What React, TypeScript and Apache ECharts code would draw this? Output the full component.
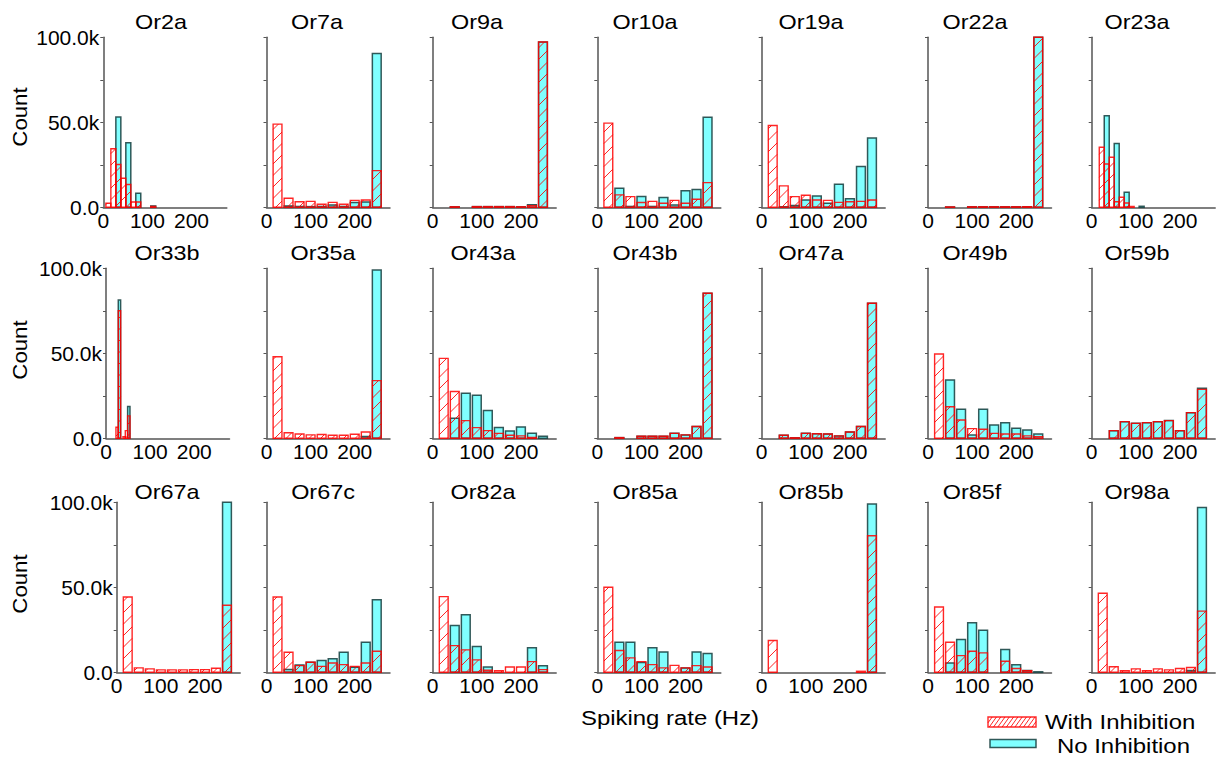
import React, { useEffect, useRef } from "react";
import * as echarts from "echarts";

// ---------- data ----------
const NAMES = [
  "Or2a", "Or7a", "Or9a", "Or10a", "Or19a", "Or22a", "Or23a",
  "Or33b", "Or35a", "Or43a", "Or43b", "Or47a", "Or49b", "Or59b",
  "Or67a", "Or67c", "Or82a", "Or85a", "Or85b", "Or85f", "Or98a",
];

// bin centres (Hz) and bin widths
const BIN_CENTERS = [25, 50, 75, 100, 125, 150, 175, 200, 225, 250];
const BIN_WIDTH = 20;
const FINE_CENTERS = [11.5, 22.8, 34.1, 45.4, 56.7, 68.0, 79.3, 90.6, 101.9, 113.2];
const FINE_WIDTH = 11.3;
const OR33B_CENTERS = [25.2, 30.5, 35.8, 41.1, 46.4, 51.7];
const OR33B_WIDTH = 5.3;

const X_TICKS = [0, 100, 200];
const Y_TICK_LABELS: Record<number, string> = { 0: "0.0", 50000: "50.0k", 100000: "100.0k" };

// counts: "With Inhibition" (w) and "No Inhibition" (n)
const or2a_w = [2400, 34400, 25200, 17100, 13400, 3100, 3100, 0, 0, 500];
const or2a_n = [0, 0, 53100, 0, 38000, 0, 8300, 0, 0, 800];
const or7a_w = [48900, 5300, 3300, 3500, 1800, 2900, 1800, 4100, 4300, 21600];
const or7a_n = [0, 800, 500, 400, 500, 1400, 500, 2800, 3100, 90400];
const or9a_w = [0, 300, 0, 400, 400, 400, 400, 300, 1000, 97200];
const or9a_n = [0, 300, 0, 400, 400, 400, 400, 300, 1500, 97200];
const or10a_w = [49500, 7300, 6300, 2800, 3500, 2400, 4100, 2400, 4700, 14500];
const or10a_n = [0, 11200, 500, 6300, 500, 5700, 1400, 9800, 10400, 53000];
const or19a_w = [48100, 12600, 6300, 7100, 4300, 4100, 2900, 3300, 3500, 4300];
const or19a_n = [0, 300, 1000, 4300, 6700, 2400, 13600, 5100, 24000, 40700];
const or22a_w = [0, 200, 0, 300, 300, 300, 300, 300, 300, 100000];
const or22a_n = [0, 200, 0, 300, 300, 300, 300, 300, 300, 100000];
const or23a_w = [0, 35300, 25500, 29400, 3300, 5900, 2500, 500, 0, 0];
const or23a_n = [0, 0, 53900, 0, 37600, 0, 8800, 0, 0, 600];

const or33b_w = [6500, 75000, 0, 1000, 4500, 13200];
const or33b_n = [0, 81300, 0, 0, 0, 18700];
const or35a_w = [48000, 3300, 2500, 2000, 2200, 1800, 1800, 2400, 3700, 33900];
const or35a_n = [0, 0, 0, 0, 0, 0, 0, 0, 1000, 99000];
const or43a_w = [47000, 27500, 10400, 6300, 4500, 2900, 1800, 1400, 500, 0];
const or43a_n = [0, 11800, 26500, 25300, 16300, 6300, 4300, 6700, 2900, 1200];
const or43b_w = [0, 400, 0, 1200, 1200, 1200, 2900, 2000, 6900, 85300];
const or43b_n = [0, 400, 0, 1200, 1200, 1200, 2900, 2000, 6900, 85300];
const or47a_w = [0, 1800, 300, 2900, 2700, 2500, 1400, 3700, 6900, 79400];
const or47a_n = [0, 1800, 300, 2900, 2700, 2500, 1400, 3700, 6900, 79400];
const or49b_w = [49600, 18600, 10800, 5700, 5300, 2900, 2500, 2500, 1400, 1000];
const or49b_n = [0, 34300, 17100, 2000, 17100, 7800, 9200, 5900, 4900, 2500];
const or59b_w = [0, 4500, 9800, 8800, 9200, 9800, 10400, 4500, 15100, 28800];
const or59b_n = [0, 4500, 9800, 8800, 9200, 9800, 10400, 4500, 15100, 29400];

const or67a_w = [44300, 2600, 2000, 1400, 1400, 1400, 1600, 1600, 2400, 39400];
const or67a_n = [0, 0, 0, 0, 0, 0, 0, 0, 0, 100000];
const or67c_w = [44300, 11800, 3900, 5900, 3500, 5500, 4500, 3500, 5500, 12400];
const or67c_n = [0, 1600, 4300, 5900, 6900, 7900, 11800, 3000, 17700, 42700];
const or82a_w = [44500, 15700, 13200, 7300, 1200, 1000, 3100, 3100, 6300, 1600];
const or82a_n = [0, 27600, 33900, 15200, 3100, 0, 0, 0, 14400, 3900];
const or85a_w = [50000, 12800, 8500, 6300, 4500, 2600, 4100, 2600, 3900, 3100];
const or85a_n = [0, 17700, 17700, 5700, 14400, 12000, 0, 2600, 12000, 11000];
const or85b_w = [18700, 0, 0, 0, 0, 0, 0, 0, 600, 80300];
const or85b_n = [0, 0, 0, 0, 0, 0, 0, 0, 0, 99000];
const or85f_w = [38400, 17700, 9800, 12400, 11400, 0, 6500, 2200, 1000, 0];
const or85f_n = [0, 5500, 19300, 29100, 24800, 0, 13400, 4500, 1000, 300];
const or98a_w = [46500, 3300, 1000, 2000, 1000, 2000, 1400, 2200, 2800, 36000];
const or98a_n = [0, 0, 0, 0, 0, 0, 0, 0, 1000, 97000];

const PANEL_DATA: [number[], number, number[], number[]][] = [
  [FINE_CENTERS, FINE_WIDTH, or2a_w, or2a_n],
  [BIN_CENTERS, BIN_WIDTH, or7a_w, or7a_n],
  [BIN_CENTERS, BIN_WIDTH, or9a_w, or9a_n],
  [BIN_CENTERS, BIN_WIDTH, or10a_w, or10a_n],
  [BIN_CENTERS, BIN_WIDTH, or19a_w, or19a_n],
  [BIN_CENTERS, BIN_WIDTH, or22a_w, or22a_n],
  [FINE_CENTERS, FINE_WIDTH, or23a_w, or23a_n],
  [OR33B_CENTERS, OR33B_WIDTH, or33b_w, or33b_n],
  [BIN_CENTERS, BIN_WIDTH, or35a_w, or35a_n],
  [BIN_CENTERS, BIN_WIDTH, or43a_w, or43a_n],
  [BIN_CENTERS, BIN_WIDTH, or43b_w, or43b_n],
  [BIN_CENTERS, BIN_WIDTH, or47a_w, or47a_n],
  [BIN_CENTERS, BIN_WIDTH, or49b_w, or49b_n],
  [BIN_CENTERS, BIN_WIDTH, or59b_w, or59b_n],
  [BIN_CENTERS, BIN_WIDTH, or67a_w, or67a_n],
  [BIN_CENTERS, BIN_WIDTH, or67c_w, or67c_n],
  [BIN_CENTERS, BIN_WIDTH, or82a_w, or82a_n],
  [BIN_CENTERS, BIN_WIDTH, or85a_w, or85a_n],
  [BIN_CENTERS, BIN_WIDTH, or85b_w, or85b_n],
  [BIN_CENTERS, BIN_WIDTH, or85f_w, or85f_n],
  [BIN_CENTERS, BIN_WIDTH, or98a_w, or98a_n],
];

// ---------- layout ----------
const FONT = "'Liberation Sans', Arial, Helvetica, sans-serif";
const FIRST_COL_LEFT = [103.3, 106, 116.7];
const COL_LEFT = [0, 266.5, 432.7, 597.3, 761.7, 928, 1091.7];
const ROW_TOP = [37.3, 268.3, 502.3];
const PLOT_W = 123.5;
const PLOT_H = 170;
const TITLE_X = [
  [161, 317, 477, 645, 811, 975, 1137],
  [167, 323, 483, 645, 811, 975, 1137],
  [167, 323, 483, 645, 811, 972, 1137],
];
const TITLE_Y = [22.5, 253, 492.5];
const COUNT_Y = [117, 350, 584];

const RED = "rgba(255,0,0,0.85)";
const CYAN_FILL = "#80ffff";
const CYAN_STROKE = "rgba(20,60,60,0.85)";
const AXIS_COLOR = "#555";

function hatch(x0: number, x1: number, yt: number, yb: number, spacing: number, slope: number, style: any) {
  const out: any[] = [];
  if (x1 - x0 < 0.5 || yb - yt < 0.5) return out;
  const cMin = yt + slope * x0;
  const cMax = yb + slope * x1;
  for (let k = Math.ceil(cMin / spacing); k * spacing <= cMax; k++) {
    const c = k * spacing;
    const xa = Math.max(x0, (c - yb) / slope);
    const xb = Math.min(x1, (c - yt) / slope);
    if (xb - xa > 0.05) {
      out.push({
        type: "line",
        silent: true,
        shape: { x1: xa, y1: c - slope * xa, x2: xb, y2: c - slope * xb },
        style,
      });
    }
  }
  return out;
}

// text helper; scaleX stretches along the text direction (also when rotated)
function txt(text: string, x: number, y: number, fontSize: number, scaleX: number, align: string, rotation = 0) {
  return {
    type: "text",
    x,
    y,
    scaleX,
    scaleY: 1,
    rotation,
    silent: true,
    style: { text, fontSize, fontFamily: FONT, fill: "#000", align, verticalAlign: "middle" },
  };
}

function buildOption() {
  const grid: any[] = [];
  const xAxis: any[] = [];
  const yAxis: any[] = [];
  const series: any[] = [];
  const graphic: any[] = [];

  NAMES.forEach((name, i) => {
    const row = Math.floor(i / 7);
    const col = i % 7;
    const left = col === 0 ? FIRST_COL_LEFT[row] : COL_LEFT[col];
    grid.push({ left, top: ROW_TOP[row], width: PLOT_W, height: PLOT_H, containLabel: false });
    xAxis.push({
      type: "value",
      gridIndex: i,
      min: 0,
      max: 280,
      interval: 100,
      axisLine: { show: true, lineStyle: { color: AXIS_COLOR, width: 1.5 } },
      axisTick: { show: false },
      splitLine: { show: false },
      axisLabel: {
        show: true,
        fontSize: 21,
        color: "#000",
        fontFamily: FONT,
        margin: 3,
        showMaxLabel: false,
        formatter: (v: number) => (X_TICKS.indexOf(v) >= 0 ? String(v) : ""),
      },
    });
    yAxis.push({
      type: "value",
      gridIndex: i,
      min: 0,
      max: 100000,
      interval: 25000,
      axisLine: { show: true, lineStyle: { color: AXIS_COLOR, width: 1.5 } },
      axisTick: { show: true, length: 3, lineStyle: { color: AXIS_COLOR, width: 1 } },
      splitLine: { show: false },
      axisLabel: {
        show: col === 0,
        fontSize: 21,
        color: "#000",
        fontFamily: FONT,
        margin: 4,
        formatter: (v: number) => Y_TICK_LABELS[v] ?? "",
      },
    });

    const [centers, width, withInh, noInh] = PANEL_DATA[i];
    const noData = centers.map((c, k) => [c, noInh[k], width]);
    const withData = centers.map((c, k) => [c, withInh[k], width]);

    series.push({
      type: "custom",
      name: "No Inhibition",
      xAxisIndex: i,
      yAxisIndex: i,
      encode: { x: 0, y: 1 },
      data: noData,
      z: 2,
      renderItem: (params: any, api: any) => {
        const c = api.value(0);
        const v = api.value(1);
        const w = api.value(2);
        if (!v) return { type: "group", children: [] };
        const p0 = api.coord([c - w / 2, 0]);
        const p1 = api.coord([c + w / 2, v]);
        return {
          type: "rect",
          shape: { x: p0[0], y: p1[1], width: p1[0] - p0[0], height: p0[1] - p1[1] },
          style: { fill: CYAN_FILL, stroke: CYAN_STROKE, lineWidth: 1.5 },
        };
      },
    });
    series.push({
      type: "custom",
      name: "With Inhibition",
      xAxisIndex: i,
      yAxisIndex: i,
      encode: { x: 0, y: 1 },
      data: withData,
      z: 3,
      renderItem: (params: any, api: any) => {
        const c = api.value(0);
        const v = api.value(1);
        const w = api.value(2);
        if (!v) return { type: "group", children: [] };
        const p0 = api.coord([c - w / 2, 0]);
        const p1 = api.coord([c + w / 2, v]);
        const x0 = p0[0], x1 = p1[0], yb = p0[1], yt = p1[1];
        const lines = hatch(x0, x1, yt, yb, 11.5, 1, { stroke: RED, lineWidth: 1 });
        return {
          type: "group",
          children: [
            ...lines,
            {
              type: "rect",
              shape: { x: x0, y: yt, width: x1 - x0, height: yb - yt },
              style: { fill: "none", stroke: RED, lineWidth: 1.4 },
            },
          ],
        };
      },
    });

    graphic.push(txt(name, TITLE_X[row][col], TITLE_Y[row], 20, 1.17, "center"));
  });

  COUNT_Y.forEach((y) => {
    graphic.push(txt("Count", 20, y, 21, 1.06, "center", Math.PI / 2));
  });

  graphic.push(txt("Spiking rate (Hz)", 670, 718, 21, 1.14, "center"));

  // legend
  const sw = { x: 988, y: 717, w: 48, h: 10 };
  graphic.push({
    type: "group",
    silent: true,
    children: [
      ...hatch(sw.x, sw.x + sw.w, sw.y, sw.y + sw.h, 6, 1.4, { stroke: RED, lineWidth: 1 }),
      {
        type: "rect",
        shape: { x: sw.x, y: sw.y, width: sw.w, height: sw.h },
        style: { fill: "none", stroke: RED, lineWidth: 1.4 },
      },
      {
        type: "rect",
        shape: { x: 990, y: 739.5, width: 46, height: 8 },
        style: { fill: CYAN_FILL, stroke: CYAN_STROKE, lineWidth: 1.5 },
      },
    ],
  });
  graphic.push(txt("With Inhibition", 1045, 722, 21, 1.14, "left"));
  graphic.push(txt("No Inhibition", 1057, 746, 21, 1.14, "left"));

  return {
    animation: false,
    backgroundColor: "#ffffff",
    textStyle: { fontFamily: FONT },
    grid,
    xAxis,
    yAxis,
    series,
    graphic,
  };
}

export default function App() {
  const ref = useRef<HTMLDivElement>(null);
  useEffect(() => {
    if (!ref.current) return;
    const chart = echarts.init(ref.current, undefined, { renderer: "svg" });
    chart.setOption(buildOption() as any);
    return () => chart.dispose();
  }, []);
  return (
    <div
      ref={ref}
      style={{ position: "absolute", left: 0, top: 0, width: 1219, height: 758, background: "#fff" }}
    />
  );
}
